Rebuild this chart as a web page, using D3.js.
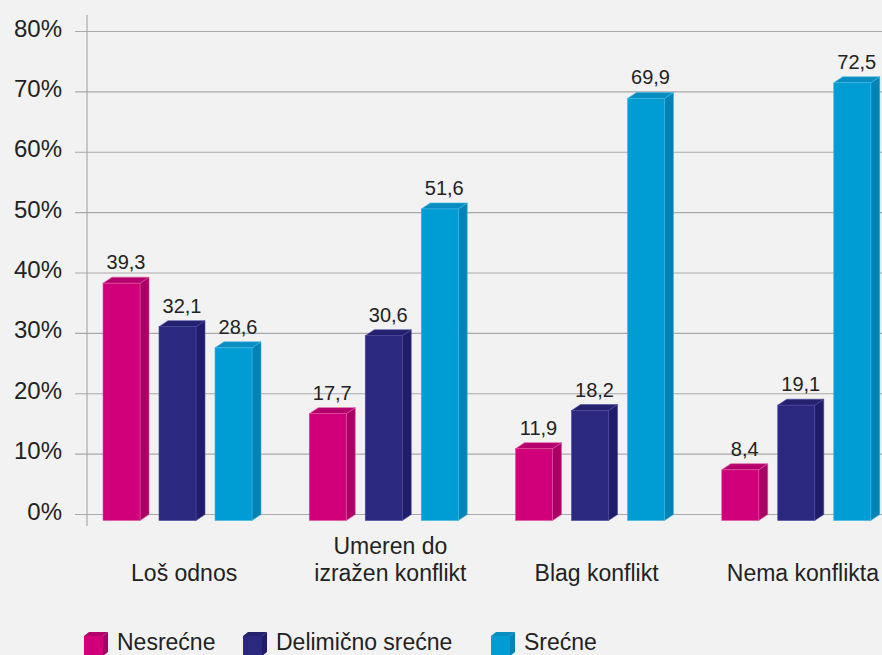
<!DOCTYPE html>
<html>
<head>
<meta charset="utf-8">
<script src="https://cdn.jsdelivr.net/npm/d3@7"></script>
<style>
	body{margin:0;background:#f2f2f2;}
	svg{display:block;font-family:"Liberation Sans",Arial,sans-serif;}
	.Grid line{stroke:#a9a9a9;stroke-width:1.2;}
	.TickLabels{font-size:24px;fill:#222;}
	.CatLabels{font-size:23px;fill:#222;}
	.ValLabels{font-size:20px;fill:#222;}
	.LegendLabels{font-size:23px;fill:#222;}
</style>
</head>
<body>
<div id="idChart"></div>
<script>
// data
var aCategories=["Loš odnos","Umeren do izražen konflikt","Blag konflikt","Nema konflikta"];
var aCatLines=[["Loš odnos"],["Umeren do","izražen konflikt"],["Blag konflikt"],["Nema konflikta"]];
var aSeries=["Nesrećne","Delimično srećne","Srećne"];
var aNesrecne=[39.3,17.7,11.9,8.4];
var aDelimicno=[32.1,30.6,18.2,19.1];
var aSrecne=[28.6,51.6,69.9,72.5];
var aTicks=[0,10,20,30,40,50,60,70,80];

function DrawHappyChart()
{
	var iWidth=882;
	var iHeight=655;
	var sContentLoc="#idChart";

	var aFront=["#d0007a","#2a287f","#009dd5"];
	var aSide=["#aa0066","#1f1c69","#0084b5"];
	var aTop=["#b4006c","#24216f","#0a8dc0"];
	var aEdge=["#e0559f","#4a48a0","#3fb6e3"];

	var iBarW=37;
	var iStep=56;
	var iDepthX=9;
	var iDepthY=6;

	var myCanvas=d3.select(sContentLoc).append("svg")
		.attr("width",iWidth)
		.attr("height",iHeight);

	var yAxes=d3.scaleLinear().domain([0,80]).range([514.5,31.5]);
	var xAxes=d3.scaleBand().domain(aCategories).range([87,912]);
	var xSeries=d3.scaleBand().domain(aSeries)
		.range([16,16+2*iStep+iBarW])
		.paddingInner((iStep-iBarW)/iStep).paddingOuter(0);

	// grid lines
	var myGrid=myCanvas.append("g").attr("class","Grid");
	myGrid.selectAll("line").data(aTicks).enter().append("line")
		.attr("x1",75).attr("x2",iWidth)
		.attr("y1",function(d){return yAxes(d);})
		.attr("y2",function(d){return yAxes(d);});
	myGrid.append("line").attr("x1",87).attr("x2",87).attr("y1",15).attr("y2",526);

	myCanvas.append("g").selectAll("text").data(aTicks).enter().append("text")
		.attr("class","TickLabels")
		.attr("text-anchor","end")
		.attr("x",62)
		.attr("y",function(d){return yAxes(d)+5;})
		.text(function(d){return d+"%";});

	var aValues=[aNesrecne,aDelimicno,aSrecne];
	var aBars=[];
	aCategories.forEach(function(sCat,i){
		aSeries.forEach(function(sSer,j){
			aBars.push({sCat:sCat,sSer:sSer,iSer:j,fValue:aValues[j][i]});
		});
	});

	var myBars=myCanvas.append("g").selectAll("g").data(aBars).enter().append("g");

	function xLeft(d){return xAxes(d.sCat)+xSeries(d.sSer);}
	function yTop(d){return yAxes(d.fValue)+iDepthY;}
	var yBottom=yAxes(0)+iDepthY;

	myBars.append("polygon")
		.attr("points",function(d){
			var x=xLeft(d)+iBarW, t=yTop(d);
			return [[x,t],[x+iDepthX,t-iDepthY],[x+iDepthX,yBottom-iDepthY],[x,yBottom]].join(" ");
		})
		.attr("fill",function(d){return aSide[d.iSer];})
		.attr("stroke",function(d){return aEdge[d.iSer];})
		.attr("stroke-width",0.6);

	myBars.append("polygon")
		.attr("points",function(d){
			var x=xLeft(d), t=yTop(d);
			return [[x,t],[x+iDepthX,t-iDepthY],[x+iBarW+iDepthX,t-iDepthY],[x+iBarW,t]].join(" ");
		})
		.attr("fill",function(d){return aTop[d.iSer];})
		.attr("stroke",function(d){return aEdge[d.iSer];})
		.attr("stroke-width",0.6);

	myBars.append("rect")
		.attr("x",xLeft)
		.attr("y",yTop)
		.attr("width",iBarW)
		.attr("height",function(d){return yBottom-yTop(d);})
		.attr("fill",function(d){return aFront[d.iSer];})
		.attr("stroke",function(d){return aEdge[d.iSer];})
		.attr("stroke-width",0.6);

	myBars.append("text")
		.attr("class","ValLabels")
		.attr("text-anchor","middle")
		.attr("x",function(d){return xLeft(d)+(iBarW+iDepthX)/2;})
		.attr("y",function(d){return yAxes(d.fValue)-8;})
		.text(function(d){return String(d.fValue).replace(".",",");});

	// category labels
	var myCats=myCanvas.append("g").selectAll("text").data(aCategories).enter().append("text")
		.attr("class","CatLabels")
		.attr("text-anchor","middle");
	myCats.each(function(sCat,i){
		var aLines=aCatLines[i];
		d3.select(this).selectAll("tspan").data(aLines).enter().append("tspan")
			.attr("x",xAxes(sCat)+xAxes.bandwidth()/2-6)
			.attr("y",function(s,k){return 581-(aLines.length-1-k)*27;})
			.text(function(s){return s;});
	});

	// legend
	var aLegendX=[84,243,491];
	var myLegend=myCanvas.append("g").selectAll("g").data(aSeries).enter().append("g")
		.attr("transform",function(s,j){return "translate("+aLegendX[j]+",632)";});
	myLegend.append("polygon")
		.attr("points","19,4 24,0 24,20 19,24")
		.attr("fill",function(s,j){return aSide[j];});
	myLegend.append("polygon")
		.attr("points","0,4 5,0 24,0 19,4")
		.attr("fill",function(s,j){return aTop[j];});
	myLegend.append("rect")
		.attr("x",0).attr("y",4).attr("width",19).attr("height",20)
		.attr("fill",function(s,j){return aFront[j];});
	myLegend.append("text")
		.attr("class","LegendLabels")
		.attr("x",33)
		.attr("y",18)
		.text(function(s){return s;});
}

DrawHappyChart();
</script>
</body>
</html>
